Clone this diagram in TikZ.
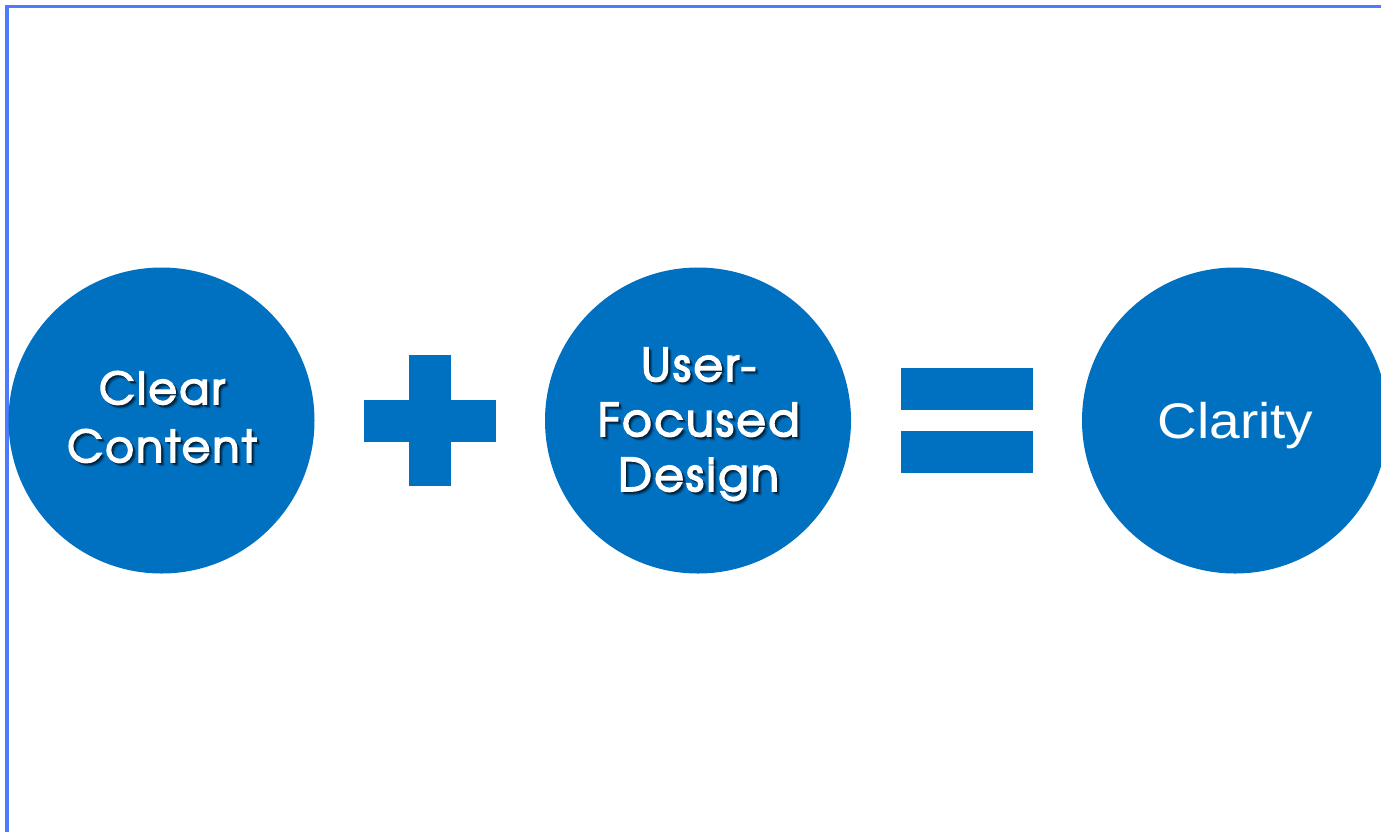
\documentclass[tikz,border=0pt]{standalone}
\usepackage{fontspec}
\newfontfamily\gothic[FakeBold=4, LetterSpace=6]{texgyreadventor-regular.otf}
\newfontfamily\arialish{Liberation Sans}
\definecolor{discblue}{HTML}{0070C0}
\definecolor{frameblue}{HTML}{4D7BFF}
\tikzset{
  disc/.style={circle, fill=discblue, draw=none, minimum size=306pt, inner sep=0pt},
  bar/.style={fill=discblue, draw=none},
  lbl/.style={text=white, anchor=base, inner sep=0pt},
  shadowA/.style={text=black, opacity=0.3, anchor=base, inner sep=0pt},
  shadowB/.style={text=black, opacity=0.18, anchor=base, inner sep=0pt},
  shadowC/.style={text=black, opacity=0.1, anchor=base, inner sep=0pt},
  gothicA/.style={font=\gothic\fontsize{43.5}{48}\selectfont},
  gothicB/.style={font=\gothic\fontsize{45}{52}\selectfont},
  plainC/.style={font=\arialish\fontsize{50}{60}\selectfont, xscale=1.1},
}
\begin{document}
\begin{tikzpicture}[x=1pt, y=-1pt]
  \useasboundingbox (0,0) rectangle (1381,831);
  \clip (0,0) rectangle (1381,831);
  \fill[white] (0,0) rectangle (1381,831);

  % frame along the top and left edges
  \draw[frameblue, line width=3.5pt] (6.8,840) -- (6.8,6.5) -- (1390,6.5);

  % the three discs
  \node[disc] (c1) at (161.5,420.5) {};
  \node[disc] (c2) at (698,420.5) {};
  \node[disc] (c3) at (1235,420.5) {};

  % plus sign
  \fill[bar] (409,355) rectangle (451,486);
  \fill[bar] (364,399.5) rectangle (495.5,441.5);

  % equals sign
  \fill[bar] (901,368) rectangle (1033,410);
  \fill[bar] (901,431) rectangle (1033,473);

  % labels with soft drop shadows
  \foreach \dx/\sty in {3.6/shadowC, 2.7/shadowB, 1.8/shadowA}{
    \node[\sty, gothicA] at (162+\dx,404+\dx) {Clear};
    \node[\sty, gothicA] at (162+\dx,462+\dx) {Content};
    \node[\sty, gothicB] at (698.5+\dx,381+\dx) {User-};
    \node[\sty, gothicB] at (698.5+\dx,436+\dx) {Focused};
    \node[\sty, gothicB] at (698.5+\dx,491+\dx) {Design};
  }
  \node[lbl, gothicA] (t1a) at (162,404) {Clear};
  \node[lbl, gothicA] (t1b) at (162,462) {Content};
  \node[lbl, gothicB] (t2a) at (698.5,381) {User-};
  \node[lbl, gothicB] (t2b) at (698.5,436) {Focused};
  \node[lbl, gothicB] (t2c) at (698.5,491) {Design};
  \node[lbl, plainC] (t3) at (1235.5,438) {Clarity};
\end{tikzpicture}
\end{document}
